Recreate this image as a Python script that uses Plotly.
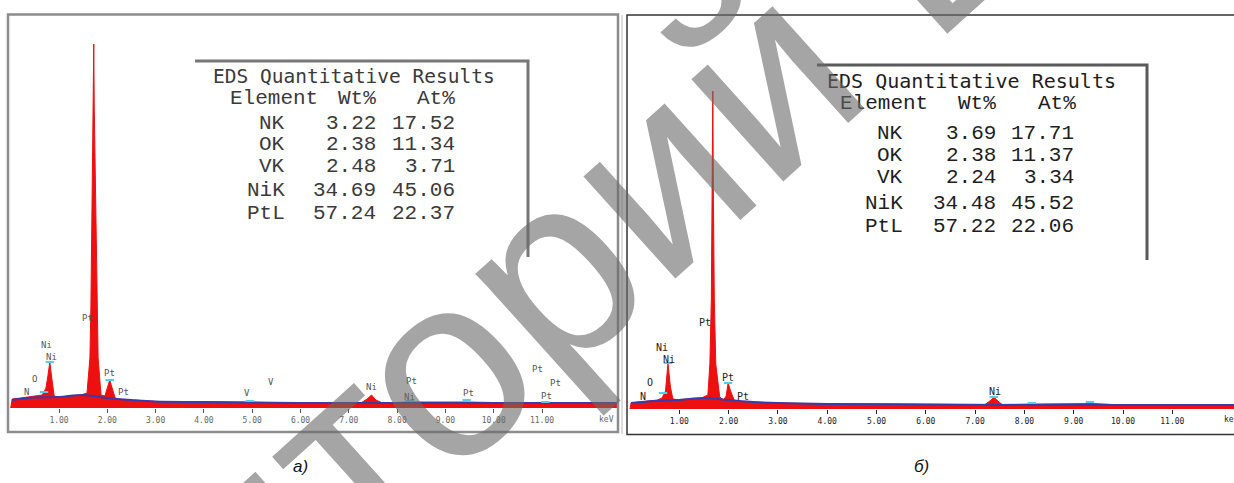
import plotly.graph_objects as go

W, H = 1234, 483

# ---------------- data ----------------
# Panel a) spectrum: energy (keV) and counts (arb. units)
a_energy = [0.0, 0.03, 0.2, 0.4, 0.55, 0.65, 0.69, 0.73, 0.77, 0.81, 0.85, 0.9, 1.0, 1.2, 1.45,
            1.58, 1.64, 1.66, 1.68, 1.71, 1.72, 1.73, 1.76, 1.78, 1.81, 1.87, 1.95, 2.0, 2.05,
            2.1, 2.17, 2.4, 3.0, 4.0, 5.0, 6.0, 7.25, 7.38, 7.47, 7.56, 7.7, 8.26, 9.44, 10.5, 12.6]
a_counts = [0, 9, 10, 11, 12, 13, 16, 20, 32, 46, 30, 12, 11, 12, 13,
            15, 50, 100, 200, 300, 364, 300, 200, 100, 50, 13, 12, 20, 28,
            20, 9, 8, 6.5, 6, 5.5, 5, 5, 9, 13, 8, 5, 6, 6, 5, 5]
a_bg_energy = [0.03, 0.5, 1.0, 1.5, 2.0, 2.5, 3.0, 4.0, 6.0, 8.0, 12.6]
a_bg_counts = [8, 10.5, 11, 13, 10, 8, 6.5, 6, 5, 5, 5]

# Panel б) spectrum
b_energy = [0.0, 0.02, 0.2, 0.4, 0.55, 0.65, 0.68, 0.72, 0.77, 0.82, 0.87, 1.0, 1.2, 1.45,
            1.58, 1.62, 1.65, 1.67, 1.68, 1.69, 1.71, 1.74, 1.82, 1.9, 1.95, 1.99, 2.04,
            2.12, 2.4, 3.0, 4.0, 5.0, 6.0, 7.2, 7.3, 7.38, 7.46, 7.55, 8.2, 9.4, 10.0, 12.3]
b_counts = [0, 6, 7, 8, 9, 11, 14, 18, 46, 22, 10, 9, 10, 11,
            14, 45, 110, 220, 318, 220, 110, 45, 12, 9, 13, 26, 18,
            8, 7, 6, 5, 5, 4.5, 4.5, 8, 12, 8, 4.5, 5, 5.5, 4, 4]
b_bg_energy = [0.02, 0.5, 1.0, 1.5, 2.0, 2.5, 3.0, 4.0, 6.0, 8.0, 12.3]
b_bg_counts = [6, 8, 9, 11, 9, 7, 6, 5, 4.5, 4, 4]

# peak identification labels: (text, keV, counts)
a_labels = [("N", 0.32, 16), ("O", 0.50, 29), ("Ni", 0.75, 63), ("Ni", 0.85, 51),
            ("Pt", 1.58, 90), ("Pt", 2.04, 35), ("Pt", 2.33, 16), ("V", 4.89, 15),
            ("V", 5.39, 26), ("Ni", 7.46, 21), ("Pt", 8.29, 27), ("Ni", 8.25, 11),
            ("Pt", 9.47, 15), ("Pt", 10.90, 39), ("Pt", 11.27, 25), ("Pt", 11.10, 12)]
b_labels = [("N", 0.26, 13), ("O", 0.41, 27), ("Ni", 0.65, 62), ("Ni", 0.79, 50),
            ("Pt", 1.52, 87), ("Pt", 1.99, 32), ("Pt", 2.29, 13), ("Ni", 7.40, 18)]

# marker lines (KLM) at identified peaks
a_mark_e = [0.69, 0.81, 2.05, 4.95, 8.26, 9.44, 11.07]
a_mark_c = [16, 46, 28, 7, 7, 8, 6]
b_mark_e = [0.67, 0.77, 1.99, 7.38, 8.15, 9.33]
b_mark_c = [16, 46, 26, 12, 6, 7]

tick_vals = [1, 2, 3, 4, 5, 6, 7, 8, 9, 10, 11]
tick_text = ["1.00", "2.00", "3.00", "4.00", "5.00", "6.00", "7.00", "8.00", "9.00", "10.00", "11.00"]

table_title = "EDS Quantitative Results"
table_header = ["Element", "Wt%", "At%"]
elements = ["NK", "OK", "VK", "NiK", "PtL"]
a_wt = ["3.22", "2.38", "2.48", "34.69", "57.24"]
a_at = ["17.52", "11.34", "3.71", "45.06", "22.37"]
b_wt = ["3.69", "2.38", "2.24", "34.48", "57.22"]
b_at = ["17.71", "11.37", "3.34", "45.52", "22.06"]
captions = ["а)", "б)"]
watermark = "Репозиторий БНТУ"

# ---------------- helpers ----------------
def px(x):
    return x / W

def py(y):
    return 1 - y / H

RED = "#ee1010"
BLUE = "#3a3aa8"
CYAN = "#4fd0ee"

fig = go.Figure()

# panel a
fig.add_trace(go.Scatter(x=a_energy, y=a_counts, mode="lines", fill="tozeroy",
                         fillcolor=RED, line=dict(color=RED, width=1), xaxis="x", yaxis="y",
                         showlegend=False, hoverinfo="skip"))
fig.add_trace(go.Scatter(x=a_bg_energy, y=a_bg_counts, mode="lines",
                         line=dict(color=BLUE, width=2, shape="spline"), xaxis="x", yaxis="y",
                         showlegend=False, hoverinfo="skip"))
fig.add_trace(go.Scatter(x=a_mark_e, y=a_mark_c, mode="markers",
                         marker=dict(symbol="line-ew", size=6, line=dict(color=CYAN, width=2)),
                         xaxis="x", yaxis="y", showlegend=False, hoverinfo="skip"))
# panel б
fig.add_trace(go.Scatter(x=b_energy, y=b_counts, mode="lines", fill="tozeroy",
                         fillcolor=RED, line=dict(color=RED, width=1), xaxis="x2", yaxis="y2",
                         showlegend=False, hoverinfo="skip"))
fig.add_trace(go.Scatter(x=b_bg_energy, y=b_bg_counts, mode="lines",
                         line=dict(color=BLUE, width=2, shape="spline"), xaxis="x2", yaxis="y2",
                         showlegend=False, hoverinfo="skip"))
fig.add_trace(go.Scatter(x=b_mark_e, y=b_mark_c, mode="markers",
                         marker=dict(symbol="line-ew", size=6, line=dict(color=CYAN, width=2)),
                         xaxis="x2", yaxis="y2", showlegend=False, hoverinfo="skip"))

# axes geometry: a) 0 keV at 10.7px, 48.3 px/keV ; б) 0 keV at 630px, 49.3 px/keV
a_x0, a_s = 10.7, 48.3
b_x0, b_s = 630.0, 49.3
a_xr = [(8.3 - a_x0) / a_s, (619 - a_x0) / a_s]
b_xr = [(627 - b_x0) / b_s, (1234 - b_x0) / b_s]

axis_common = dict(showgrid=False, zeroline=False, showline=False, ticks="outside",
                   ticklen=4, tickwidth=1, tickvals=tick_vals, ticktext=tick_text,
                   fixedrange=True)

layout = dict(
    width=W, height=H, margin=dict(l=0, r=0, t=0, b=0),
    paper_bgcolor="white", plot_bgcolor="rgba(0,0,0,0)", showlegend=False,
    xaxis=dict(domain=[px(8.3), px(619)], range=a_xr, anchor="y", tickcolor="#555",
               tickfont=dict(family="DejaVu Sans Mono", size=8, color="#666"), **axis_common),
    yaxis=dict(domain=[py(408), py(15)], range=[0, 393], visible=False, anchor="x", fixedrange=True),
    xaxis2=dict(domain=[px(627), 1.0], range=b_xr, anchor="y2", tickcolor="#222",
                tickfont=dict(family="DejaVu Sans Mono", size=8, color="#222"), **axis_common),
    yaxis2=dict(domain=[py(409), py(15)], range=[0, 394], visible=False, anchor="x2", fixedrange=True),
)
fig.update_layout(**layout)

shapes = [
    # panel frames
    dict(type="rect", xref="paper", yref="paper", x0=px(8), x1=px(618), y0=py(432), y1=py(14.5),
         line=dict(color="#8c8c8c", width=2.5)),
    dict(type="rect", xref="paper", yref="paper", x0=px(627), x1=px(1240), y0=py(434.5), y1=py(15),
         line=dict(color="#333333", width=1.5)),
    dict(type="line", xref="paper", yref="paper", x0=px(622), x1=px(622), y0=py(434), y1=py(15),
         line=dict(color="#bbbbbb", width=1)),
    # table boxes (top and right edges)
    dict(type="path", xref="paper", yref="paper",
         path=f"M {px(195)} {py(61)} L {px(528)} {py(61)} L {px(528)} {py(257)}",
         line=dict(color="#777777", width=3)),
    dict(type="path", xref="paper", yref="paper",
         path=f"M {px(817)} {py(65)} L {px(1147)} {py(65)} L {px(1147)} {py(260)}",
         line=dict(color="#5a5a5a", width=3)),
]
fig.update_layout(shapes=shapes)

ann = []
# peak labels
for t, e, c in a_labels:
    ann.append(dict(text=t, x=e, y=c, xref="x", yref="y", showarrow=False,
                    xanchor="center", yanchor="middle",
                    font=dict(family="DejaVu Sans Mono", size=9, color="#555")))
for t, e, c in b_labels:
    ann.append(dict(text=t, x=e, y=c, xref="x2", yref="y2", showarrow=False,
                    xanchor="center", yanchor="middle",
                    font=dict(family="DejaVu Sans Mono", size=10, color="#222")))
# keV unit labels
ann.append(dict(text="keV", x=(606 - a_x0) / a_s, y=py(419), xref="x", yref="paper",
                showarrow=False, xanchor="center", yanchor="middle",
                font=dict(family="DejaVu Sans Mono", size=8, color="#666")))
ann.append(dict(text="keV", x=px(1222), y=py(419), xref="paper", yref="paper",
                showarrow=False, xanchor="left", yanchor="middle",
                font=dict(family="DejaVu Sans Mono", size=8, color="#222")))

# tables
def table(cx_title, y_title, y_head, head_x, rows_y, el_r, wt_r, at_r, wt, at, color, fs, fs_t):
    out = []
    out.append(dict(text=table_title, x=px(cx_title), y=py(y_title), xref="paper", yref="paper",
                    showarrow=False, xanchor="center", yanchor="middle",
                    font=dict(family="DejaVu Sans Mono", size=fs_t, color=color)))
    for h, (hx, anc) in zip(table_header, head_x):
        out.append(dict(text=h, x=px(hx), y=py(y_head), xref="paper", yref="paper",
                        showarrow=False, xanchor=anc, yanchor="middle",
                        font=dict(family="Liberation Mono", size=fs, color=color)))
    for el, w, a, yy in zip(elements, wt, at, rows_y):
        for txt, xr in ((el, el_r), (w, wt_r), (a, at_r)):
            out.append(dict(text=txt, x=px(xr), y=py(yy), xref="paper", yref="paper",
                            showarrow=False, xanchor="right", yanchor="middle",
                            font=dict(family="Liberation Mono", size=fs, color=color)))
    return out

ann += table(354, 76, 98, [(228, "left"), (378, "right"), (457, "right")],
             [124, 145, 167, 190, 213], 287, 378, 457, a_wt, a_at, "#3a3a3a", 21, 19.5)
ann += table(971, 81, 103, [(838, "left"), (998, "right"), (1078, "right")],
             [133, 155, 177, 203, 227], 905, 998, 1076, b_wt, b_at, "#1e1e1e", 21, 20)

# captions
ann.append(dict(text=f"<i>{captions[0]}</i>", x=px(300), y=py(466), xref="paper", yref="paper",
                showarrow=False, xanchor="center", yanchor="middle",
                font=dict(family="Liberation Sans", size=17, color="#111")))
ann.append(dict(text=f"<i>{captions[1]}</i>", x=px(921), y=py(466), xref="paper", yref="paper",
                showarrow=False, xanchor="center", yanchor="middle",
                font=dict(family="Liberation Sans", size=17, color="#111")))

# watermark
ann.append(dict(text=watermark, x=px(523), y=py(296), xref="paper", yref="paper",
                showarrow=False, textangle=-42, xanchor="center", yanchor="middle",
                font=dict(family="Liberation Sans", size=260, color="rgba(105,105,105,0.6)")))

fig.update_layout(annotations=ann)
fig.write_html("out.html", config={"displayModeBar": False, "staticPlot": True},
               post_script="document.body.style.margin='0';document.body.style.overflow='hidden';")
